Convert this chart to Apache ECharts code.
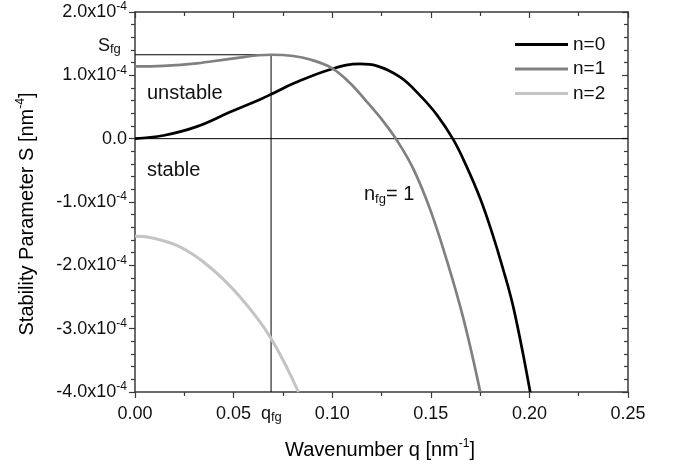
<!DOCTYPE html>
<html>
<head>
<meta charset="utf-8">
<script src="https://cdn.jsdelivr.net/npm/echarts@6/dist/echarts.min.js"></script>
<style>
  html, body { margin: 0; padding: 0; background: #fff; }
  #chart { width: 674px; height: 468px; }
</style>
</head>
<body>
<div id="chart"></div>
<script>
// S values are in units of 1e-4 nm^-4
const q0 = [0, 0.0144, 0.0313, 0.0482, 0.0634, 0.069, 0.0803, 0.0998, 0.114, 0.1226, 0.1345, 0.1446, 0.153, 0.1615, 0.1683, 0.1751, 0.181, 0.1861, 0.192, 0.2004]
const s0 = [0, 0.05, 0.19, 0.42, 0.62, 0.70, 0.87, 1.10, 1.18, 1.15, 0.97, 0.68, 0.38, -0.02, -0.45, -0.95, -1.48, -2.0, -2.68, -4.0]

const q1 = [0, 0.0144, 0.0313, 0.0482, 0.069, 0.0803, 0.0888, 0.0998, 0.109, 0.1176, 0.126, 0.1327, 0.1412, 0.1497, 0.1581, 0.1666, 0.1751]
const s1 = [1.14, 1.15, 1.19, 1.26, 1.325, 1.305, 1.25, 1.115, 0.88, 0.58, 0.27, -0.02, -0.48, -1.12, -1.92, -2.85, -4.0]

const q2 = [0, 0.0076, 0.0228, 0.038, 0.0533, 0.0685, 0.0829]
const s2 = [-1.54, -1.56, -1.71, -2.03, -2.50, -3.13, -4.0]

const seriesNames = ['n=0', 'n=1', 'n=2']
const seriesColors = ['#000000', '#808080', '#c4c4c4']

// fastest-growing mode
const qFg = 0.069
const sFg = 1.325

const xTicks = [0, 0.05, 0.10, 0.15, 0.20, 0.25]
const yTicks = [-4, -3, -2, -1, 0, 1, 2]

const FONT = 'Arial, "Liberation Sans", sans-serif'
const AXIS_COLOR = '#3a3a3a'

const zip = (xs, ys) => xs.map((x, i) => [x, ys[i]])

const chart = echarts.init(document.getElementById('chart'))

const supRich = {
  b: { fontSize: 18, fontFamily: FONT, color: '#111', lineHeight: 22 },
  s: { fontSize: 12, fontFamily: FONT, color: '#111', lineHeight: 12, verticalAlign: 'top' }
}

const refLine = (data) => ({
  type: 'line',
  data: data,
  showSymbol: false,
  silent: true,
  lineStyle: { color: '#000', width: 1 },
  z: 1
})

const curve = (i, data) => ({
  name: seriesNames[i],
  type: 'line',
  data: data,
  showSymbol: false,
  smooth: 0.4,
  color: seriesColors[i],
  lineStyle: { color: seriesColors[i], width: i === 2 ? 3 : 2.7 },
  z: 3
})

const options = {
  animation: false,
  backgroundColor: '#fff',
  grid: { left: 135, right: 46, top: 12, bottom: 76 },
  legend: {
    data: seriesNames,
    orient: 'vertical',
    left: 510,
    top: 30,
    itemWidth: 53,
    itemHeight: 3,
    itemGap: 5.5,
    icon: 'rect',
    textStyle: { fontSize: 19, fontFamily: FONT, color: '#111', lineHeight: 19 }
  },
  xAxis: [
    {
      type: 'value',
      position: 'bottom',
      min: xTicks[0],
      max: xTicks[xTicks.length - 1],
      interval: 0.05,
      axisLine: { onZero: false, lineStyle: { color: AXIS_COLOR, width: 1.5 } },
      axisTick: { inside: false, length: 6, lineStyle: { color: AXIS_COLOR, width: 1.2 } },
      minorTick: { show: true, splitNumber: 2, length: 4, lineStyle: { color: AXIS_COLOR, width: 1.2 } },
      splitLine: { show: false },
      axisLabel: {
        margin: 13,
        fontSize: 18,
        fontFamily: FONT,
        color: '#111',
        formatter: (v) => v.toFixed(2)
      }
    },
    {
      type: 'value',
      position: 'top',
      min: xTicks[0],
      max: xTicks[xTicks.length - 1],
      interval: 0.05,
      axisLine: { onZero: false, lineStyle: { color: AXIS_COLOR, width: 1.5 } },
      axisTick: { inside: true, length: 6, lineStyle: { color: AXIS_COLOR, width: 1.2 } },
      minorTick: { show: true, splitNumber: 2, length: 4, lineStyle: { color: AXIS_COLOR, width: 1.2 } },
      splitLine: { show: false },
      axisLabel: { show: false }
    }
  ],
  yAxis: [
    {
      type: 'value',
      position: 'left',
      min: yTicks[0],
      max: yTicks[yTicks.length - 1],
      interval: 1,
      axisLine: { onZero: false, lineStyle: { color: AXIS_COLOR, width: 1.5 } },
      axisTick: { inside: false, length: 6, lineStyle: { color: AXIS_COLOR, width: 1.2 } },
      minorTick: { show: true, splitNumber: 5, length: 4, lineStyle: { color: AXIS_COLOR, width: 1.2 } },
      splitLine: { show: false },
      axisLabel: {
        margin: 8,
        formatter: (v) => {
          if (Math.abs(v) < 1e-9) return '{b|0.0}'
          return '{b|' + v.toFixed(1) + 'x10}{s|-4}'
        },
        rich: supRich
      }
    },
    {
      type: 'value',
      position: 'right',
      min: yTicks[0],
      max: yTicks[yTicks.length - 1],
      interval: 1,
      axisLine: { onZero: false, lineStyle: { color: AXIS_COLOR, width: 1.5 } },
      axisTick: { inside: true, length: 6, lineStyle: { color: AXIS_COLOR, width: 1.2 } },
      minorTick: { show: true, splitNumber: 5, length: 4, lineStyle: { color: AXIS_COLOR, width: 1.2 } },
      splitLine: { show: false },
      axisLabel: { show: false }
    }
  ],
  series: [
    refLine([[xTicks[0], 0], [xTicks[xTicks.length - 1], 0]]),
    refLine([[xTicks[0], sFg], [qFg, sFg]]),
    refLine([[qFg, sFg], [qFg, yTicks[0]]]),
    curve(0, zip(q0, s0)),
    curve(1, zip(q1, s1)),
    curve(2, zip(q2, s2))
  ]
}

const txt = (x, y, text, rich, extra) => Object.assign({
  type: 'text',
  x: x,
  y: y,
  z: 10,
  style: {
    text: text,
    rich: rich,
    fill: '#111',
    align: 'left',
    verticalAlign: 'middle',
    textAlign: 'left',
    textVerticalAlign: 'middle'
  }
}, extra || {})

const annRich = {
  b: { fontSize: 20, fontFamily: FONT, color: '#111', lineHeight: 24 },
  sub: { fontSize: 13, fontFamily: FONT, color: '#111', lineHeight: 14, verticalAlign: 'bottom' },
  sup: { fontSize: 12, fontFamily: FONT, color: '#111', lineHeight: 12, verticalAlign: 'top' }
}
const lblRich = {
  b: { fontSize: 18, fontFamily: FONT, color: '#111', lineHeight: 20 },
  sub: { fontSize: 13, fontFamily: FONT, color: '#111', lineHeight: 12, verticalAlign: 'bottom' }
}

options.graphic = [
  txt(147, 93, '{b|unstable}', annRich),
  txt(147, 170, '{b|stable}', annRich),
  txt(364, 194, '{b|n}{sub|fg}{b|= 1}', annRich),
  txt(98, 46, '{b|S}{sub|fg}', lblRich),
  txt(261, 414, '{b|q}{sub|fg}', lblRich),
  {
    type: 'text',
    x: 380,
    y: 450,
    style: {
      text: '{b|Wavenumber q [nm}{sup|-1}{b|]}',
      rich: annRich,
      align: 'center',
      verticalAlign: 'middle',
      textAlign: 'center',
      textVerticalAlign: 'middle'
    }
  },
  {
    type: 'text',
    x: 27,
    y: 214,
    rotation: Math.PI / 2,
    style: {
      text: '{b|Stability Parameter S [nm}{sup|-4}{b|]}',
      rich: annRich,
      align: 'center',
      verticalAlign: 'middle',
      textAlign: 'center',
      textVerticalAlign: 'middle'
    }
  }
]

chart.setOption(options)
window.onresize = () => { chart.resize() }
</script>
</body>
</html>
